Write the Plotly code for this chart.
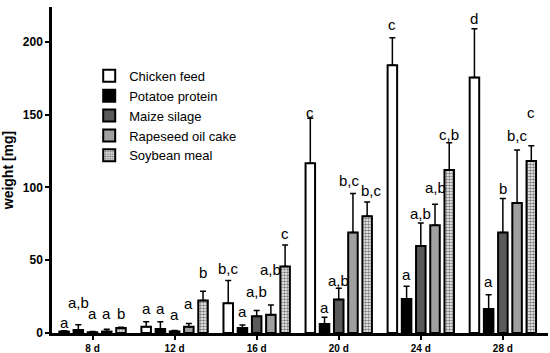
import plotly.graph_objects as go

days = ["8 d", "12 d", "16 d", "20 d", "24 d", "28 d"]

series_names = ["Chicken feed", "Potatoe protein", "Maize silage", "Rapeseed oil cake", "Soybean meal"]

chicken = [1.0, 4.3, 20.4, 116.6, 183.9, 175.6]
chicken_err = [0.5, 3.5, 15.6, 31.0, 18.9, 33.4]
potato = [2.0, 2.8, 3.4, 6.2, 23.4, 16.5]
potato_err = [3.7, 5.0, 2.1, 4.6, 8.8, 9.7]
maize = [0.5, 1.1, 11.5, 23.0, 59.7, 69.0]
maize_err = [0.5, 0.7, 3.9, 7.8, 15.9, 23.4]
rapeseed = [1.0, 4.3, 12.6, 69.0, 74.0, 89.4]
rapeseed_err = [1.5, 2.3, 6.7, 26.9, 14.5, 36.3]
soybean = [3.4, 22.3, 45.7, 80.2, 112.0, 118.1]
soybean_err = [0.5, 6.4, 14.7, 9.8, 18.8, 10.6]

chicken_lab = ["a", "a", "b,c", "c", "c", "d"]
potato_lab = ["a,b", "a", "a", "a", "a", "a"]
maize_lab = ["a", "a", "a,b", "a,b", "a,b", "b"]
rapeseed_lab = ["a", "a", "a,b", "b,c", "a,b", "b,c"]
soybean_lab = ["b", "b", "c", "b,c", "c,b", "c"]

# heights (mg) at which the significance letters sit
chicken_lab_y = [7.3, 16.6, 44.1, 151.4, 211.9, 216.1]
potato_lab_y = [21.1, 16.6, 14.9, 17.2, 40.2, 35.4]
maize_lab_y = [13.5, 12.6, 28.5, 36.1, 82.1, 99.5]
rapeseed_lab_y = [13.5, 20.0, 43.4, 105.0, 100.2, 135.6]
soybean_lab_y = [13.5, 41.4, 68.5, 97.7, 136.6, 151.4]

values = [chicken, potato, maize, rapeseed, soybean]
errors = [chicken_err, potato_err, maize_err, rapeseed_err, soybean_err]
labels = [chicken_lab, potato_lab, maize_lab, rapeseed_lab, soybean_lab]
label_ys = [chicken_lab_y, potato_lab_y, maize_lab_y, rapeseed_lab_y, soybean_lab_y]

colors = ["white", "black", "#5a5a5a", "#a0a0a0", "white"]
patterns = ["", "", "", "", "."]

FONT = "Liberation Sans, Arial, sans-serif"
bargap = 0.134

fig = go.Figure()
for name, v, e, c, p in zip(series_names, values, errors, colors, patterns):
    marker = dict(color=c, line=dict(color="black", width=2))
    if p:
        marker["pattern"] = dict(shape=p, fgcolor="black", bgcolor="white", size=3, solidity=0.55)
    fig.add_trace(go.Bar(
        name=name, x=days, y=v, marker=marker,
        error_y=dict(type="data", array=e, arrayminus=[0] * len(e), symmetric=False,
                     color="black", thickness=1.5, width=3),
    ))

# small horizontal nudges (px) for letters that would otherwise collide
nudge = {(3, 3): -3, (4, 3): 4}

n = len(series_names)
slot = (1 - bargap) / n
annotations = []
for j, (labs, ly) in enumerate(zip(labels, label_ys)):
    for i, (t, yy) in enumerate(zip(labs, ly)):
        annotations.append(dict(
            x=i + (j - (n - 1) / 2) * slot, y=yy, xref="x", yref="y",
            text=t, showarrow=False, yanchor="middle", xanchor="center",
            xshift=nudge.get((j, i), 0),
            font=dict(family=FONT, size=15, color="black"),
        ))

fig.update_layout(
    width=550, height=353,
    margin=dict(l=52, r=2, t=7, b=20, autoexpand=False),
    paper_bgcolor="white", plot_bgcolor="white",
    barmode="group", bargap=bargap, bargroupgap=0.33,
    font=dict(family=FONT, color="black"),
    showlegend=True,
    legend=dict(x=0.075, y=0.835, xanchor="left", yanchor="top",
                font=dict(family=FONT, size=13, color="black"),
                bgcolor="rgba(0,0,0,0)", tracegroupgap=4),
    annotations=annotations,
    xaxis=dict(range=[-0.494, 5.55], showline=True, linecolor="black", linewidth=2.5,
               ticks="outside", ticklen=4, tickwidth=2, tickcolor="black",
               tickfont=dict(family=FONT, size=10, color="black", weight="bold"),
               showgrid=False, zeroline=False, automargin=False),
    yaxis=dict(range=[0, 224], showline=True, linecolor="black", linewidth=2.5,
               ticks="outside", ticklen=4, tickwidth=2, tickcolor="black",
               tickvals=[0, 50, 100, 150, 200],
               tickfont=dict(family=FONT, size=12, color="black", weight="bold"),
               title=dict(text="weight [mg]", standoff=8,
                          font=dict(family=FONT, size=14, color="black", weight="bold")),
               showgrid=False, zeroline=False, automargin=False),
)

fig.write_html("out.html", config={"displayModeBar": False},
               post_script="document.body.style.margin='0';document.body.style.overflow='hidden';")
